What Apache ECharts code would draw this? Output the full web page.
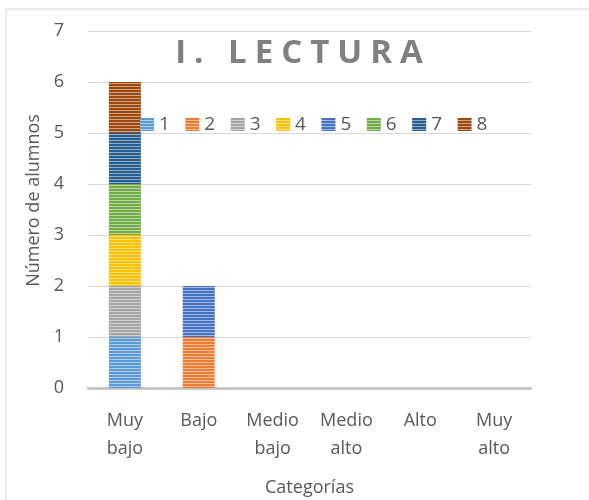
<!DOCTYPE html>
<html>
<head>
<meta charset="utf-8">
<script src="https://cdn.jsdelivr.net/npm/echarts@6/dist/echarts.min.js"></script>
<style>
  html, body { margin: 0; padding: 0; background: #fff; }
  #main { width: 589px; height: 500px; }
</style>
</head>
<body>
<div id="main"></div>
<script>
  // datos del grafico
  var titulo = 'I. LECTURA';
  var categorias = ['Muy\nbajo', 'Bajo', 'Medio\nbajo', 'Medio\nalto', 'Alto', 'Muy\nalto'];
  var nombres = ['1', '2', '3', '4', '5', '6', '7', '8'];
  var s1 = [1, 0, 0, 0, 0, 0];
  var s2 = [0, 1, 0, 0, 0, 0];
  var s3 = [1, 0, 0, 0, 0, 0];
  var s4 = [1, 0, 0, 0, 0, 0];
  var s5 = [0, 1, 0, 0, 0, 0];
  var s6 = [1, 0, 0, 0, 0, 0];
  var s7 = [1, 0, 0, 0, 0, 0];
  var s8 = [1, 0, 0, 0, 0, 0];
  var valores = [s1, s2, s3, s4, s5, s6, s7, s8];
  var colores = ['#5B9BD5', '#ED7D31', '#A5A5A5', '#FFC000', '#4472C4', '#70AD47', '#255E91', '#9E480E'];

  var fuente = '"Open Sans", "Noto Sans", sans-serif';

  // mezcla con blanco para la raya clara
  function aclarar(hex, k) {
    var r = parseInt(hex.substr(1, 2), 16);
    var g = parseInt(hex.substr(3, 2), 16);
    var b = parseInt(hex.substr(5, 2), 16);
    r = Math.round(r + (255 - r) * k);
    g = Math.round(g + (255 - g) * k);
    b = Math.round(b + (255 - b) * k);
    return 'rgb(' + r + ',' + g + ',' + b + ')';
  }

  // patron de rayas horizontales
  function rayas(color) {
    var c = document.createElement('canvas');
    c.width = 4;
    c.height = 3;
    var ctx = c.getContext('2d');
    ctx.fillStyle = aclarar(color, 0.5);
    ctx.fillRect(0, 0, 4, 3);
    ctx.fillStyle = color;
    ctx.fillRect(0, 0, 4, 2);
    return { image: c, repeat: 'repeat' };
  }

  var series = [];
  for (var i = 0; i < nombres.length; i++) {
    series.push({
      name: nombres[i],
      type: 'bar',
      stack: 'total',
      barWidth: 32,
      data: valores[i],
      itemStyle: { color: rayas(colores[i]) }
    });
  }

  // titulo con letras separadas (cada letra es un token rich)
  var tituloRich = titulo.split('').map(function (c) {
    return '{s|' + c + '}';
  }).join('');

  var myChart = echarts.init(document.getElementById('main'));

  var option = {
    animation: false,
    textStyle: { fontFamily: fuente },
    title: {
      text: tituloRich,
      left: 294,
      top: 32,
      textAlign: 'center',
      textStyle: {
        fontFamily: fuente,
        fontSize: 33,
        fontWeight: 'bold',
        color: '#808080',
        rich: {
          s: {
            fontFamily: fuente,
            fontSize: 33,
            fontWeight: 'bold',
            color: '#808080',
            padding: [0, 4, 0, 4]
          }
        }
      }
    },
    legend: {
      data: nombres,
      left: 135,
      top: 110,
      itemWidth: 14,
      itemHeight: 13,
      itemGap: 15.5,
      icon: 'rect',
      textStyle: { fontFamily: fuente, fontSize: 19, color: '#595959' }
    },
    graphic: [{
      type: 'rect',
      shape: { x: 6, y: 9, width: 700, height: 600 },
      style: { fill: null, stroke: '#D9D9D9', lineWidth: 1 },
      silent: true
    }],
    grid: {
      left: 88,
      right: 58,
      top: 31,
      bottom: 112,
      outerBoundsMode: 'none'
    },
    xAxis: {
      type: 'category',
      data: categorias,
      name: 'Categorías',
      nameLocation: 'middle',
      nameGap: 91,
      nameTextStyle: { fontFamily: fuente, fontSize: 18, color: '#595959' },
      axisLine: { show: true, lineStyle: { color: '#BFBFBF', width: 2.5 } },
      axisTick: { show: false },
      axisLabel: {
        margin: 19,
        fontFamily: fuente,
        fontSize: 18,
        lineHeight: 28,
        color: '#595959',
        interval: 0
      }
    },
    yAxis: {
      type: 'value',
      min: 0,
      max: 7,
      interval: 1,
      name: 'Número de alumnos',
      nameLocation: 'middle',
      nameGap: 44,
      nameTextStyle: { fontFamily: fuente, fontSize: 18, color: '#595959', padding: [0, 0, 0, 18] },
      axisLine: { show: false },
      axisTick: { show: false },
      axisLabel: { margin: 24, fontFamily: fuente, fontSize: 18, color: '#595959' },
      splitLine: { lineStyle: { color: '#D9D9D9', width: 1 } }
    },
    series: series
  };

  myChart.setOption(option);
</script>
</body>
</html>
